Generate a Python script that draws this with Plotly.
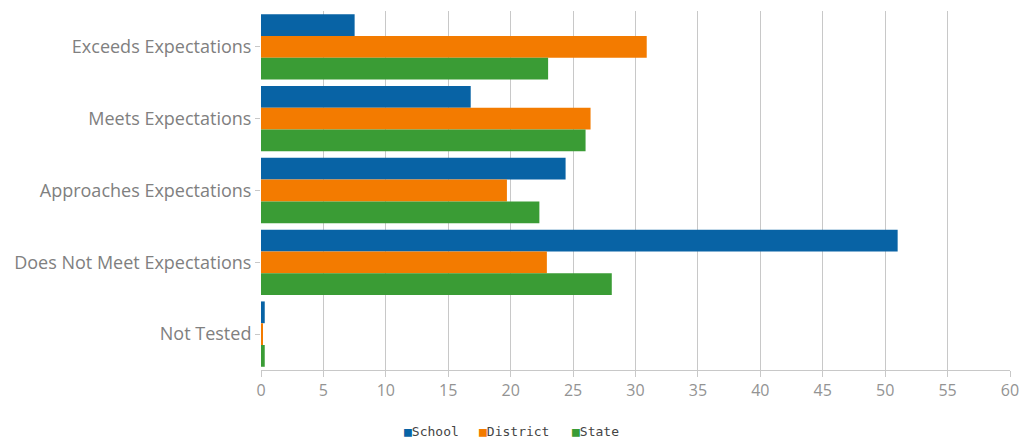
import plotly.graph_objects as go

categories = ["Exceeds Expectations", "Meets Expectations", "Approaches Expectations",
              "Does Not Meet Expectations", "Not Tested"]
series_names = ["School", "District", "State"]
school = [7.5, 16.8, 24.4, 51.0, 0.3]
district = [30.9, 26.4, 19.7, 22.9, 0.1]
state = [23.0, 26.0, 22.3, 28.1, 0.3]
x_ticks = list(range(0, 61, 5))

colors = ["#0863a5", "#f37b00", "#3a9c35"]
legend_x = [0.1876, 0.2884, 0.4126]  # paper positions of the legend items

fig = go.Figure()
for name, vals, col in zip(series_names, [school, district, state], colors):
    fig.add_trace(go.Bar(y=categories, x=vals, name=name, orientation="h",
                         marker=dict(color=col, line=dict(width=0))))

for name, col, lx in zip(series_names, colors, legend_x):
    fig.add_annotation(xref="paper", yref="paper", x=lx, y=-0.1727,
                       xanchor="left", yanchor="middle", showarrow=False,
                       text=f"<span style='color:{col}'>■</span>{name}",
                       font=dict(family="DejaVu Sans Mono", size=13, color="#444444"))

fig.update_layout(
    width=1024, height=445,
    margin=dict(l=261, r=14, t=11, b=75, autoexpand=False),
    barmode="group", bargap=0.09, bargroupgap=0,
    plot_bgcolor="white", paper_bgcolor="white",
    showlegend=False,
    font=dict(family="Open Sans", size=18, color="#808080"),
    xaxis=dict(range=[0, 60], tickvals=x_ticks, showgrid=True, gridcolor="#c8c8c8",
               gridwidth=1, zeroline=False, showline=True, linecolor="#c8c8c8",
               ticks="outside", ticklen=6, tickcolor="#c8c8c8", automargin=False,
               tickfont=dict(family="Open Sans", size=16, color="#939393")),
    yaxis=dict(autorange="reversed", showgrid=False, showline=False,
               ticks="outside", ticklen=5, tickcolor="#c8c8c8", automargin=False,
               tickfont=dict(family="Open Sans", size=18, color="#808080")),
)

fig.write_html("out.html")
